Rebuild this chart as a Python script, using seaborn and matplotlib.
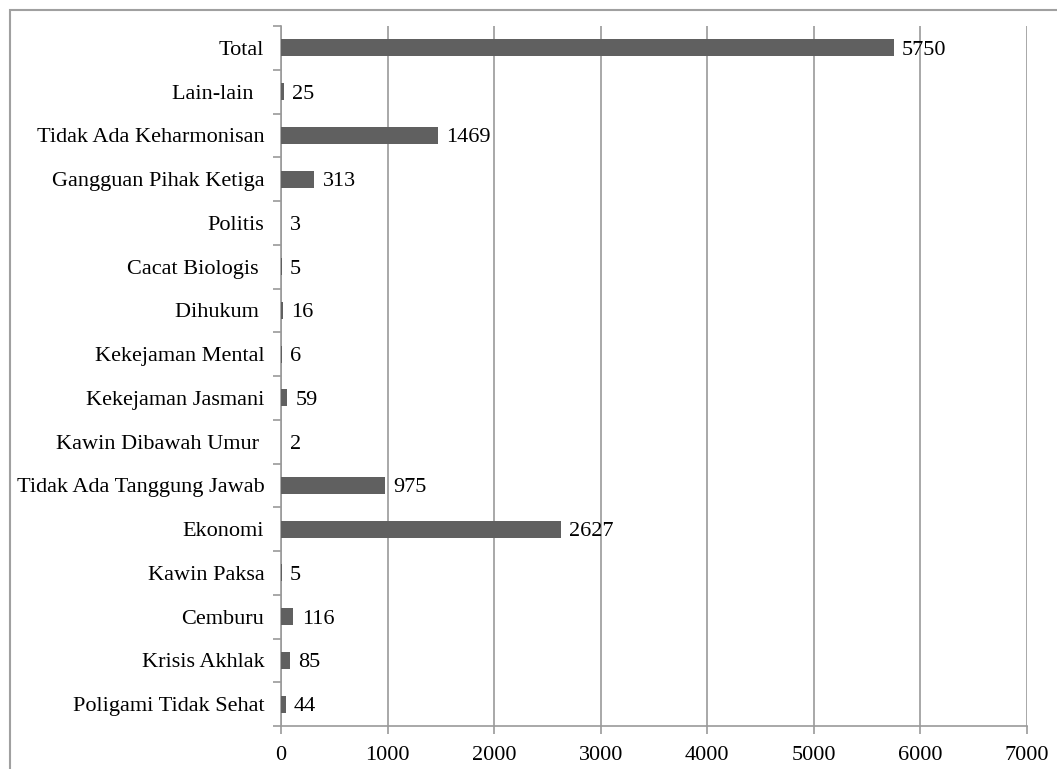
import numpy as np
import pandas as pd
import seaborn as sns
import matplotlib.pyplot as plt
from matplotlib.patches import Rectangle

# Data (top to bottom as in the chart)
categories = ['Total', 'Lain-lain  ', 'Tidak Ada Keharmonisan', 'Gangguan Pihak Ketiga',
              'Politis', 'Cacat Biologis ', 'Dihukum ', 'Kekejaman Mental',
              'Kekejaman Jasmani', 'Kawin Dibawah Umur ', 'Tidak Ada Tanggung Jawab',
              'Ekonomi', 'Kawin Paksa', 'Cemburu', 'Krisis Akhlak', 'Poligami Tidak Sehat']
values = [5750, 25, 1469, 313, 3, 5, 16, 6, 59, 2, 975, 2627, 5, 116, 85, 44]
x_ticks = [0, 1000, 2000, 3000, 4000, 5000, 6000, 7000]

df = pd.DataFrame({'cause': categories, 'count': values})

sns.set_theme(style='white')
plt.rcParams['font.family'] = ['Liberation Serif', 'DejaVu Serif']
fs = 16

fig = plt.figure(figsize=(10.57, 7.69), dpi=100)
W, H = 1057, 769
ax = fig.add_axes([281 / W, 1 - 726 / H, (1027 - 281) / W, (726 - 26) / H])

sns.barplot(data=df, x='count', y='cause', order=categories, orient='h',
            color='#606060', saturation=1, width=0.39, linewidth=0, ax=ax, zorder=3)

# value labels
for i, v in enumerate(values):
    ax.annotate(str(v), xy=(v, i), xytext=(6, 0), textcoords='offset points',
                ha='left', va='center_baseline', fontsize=fs, color='black', zorder=4)

ax.set_xlim(0, 7000)
ax.set_ylim(len(categories) - 0.5, -0.5)
ax.set_xticks(x_ticks)
ax.set_xticklabels([str(t) for t in x_ticks], fontsize=fs)
ax.set_yticks(np.arange(len(categories)))
ax.set_yticklabels(categories, fontsize=fs)
ax.set_yticks(np.arange(len(categories) + 1) - 0.5, minor=True)
ax.set_xlabel('')
ax.set_ylabel('')

ax.grid(axis='x', color='#9a9a9a', linewidth=1.2, zorder=0)
ax.grid(axis='y', visible=False)
ax.set_axisbelow(True)

for s in ['top', 'right']:
    ax.spines[s].set_visible(False)
for s in ['left', 'bottom']:
    ax.spines[s].set_color('#9a9a9a')
    ax.spines[s].set_linewidth(1.2)

ax.tick_params(axis='y', which='major', length=0, pad=12, colors='black')
ax.tick_params(axis='y', which='minor', left=True, length=6, width=1.2, color='#9a9a9a')
ax.tick_params(axis='x', which='major', bottom=True, length=6, width=1.2, color='#9a9a9a',
               pad=8.5, labelcolor='black')

# outer chart border
fig.add_artist(Rectangle((10 / W, -0.05), 1.1, 1 - 10 / H + 0.05, transform=fig.transFigure,
                         fill=False, edgecolor='#a0a0a0', linewidth=1.5))

fig.savefig('out.png', dpi=100, facecolor='white')
